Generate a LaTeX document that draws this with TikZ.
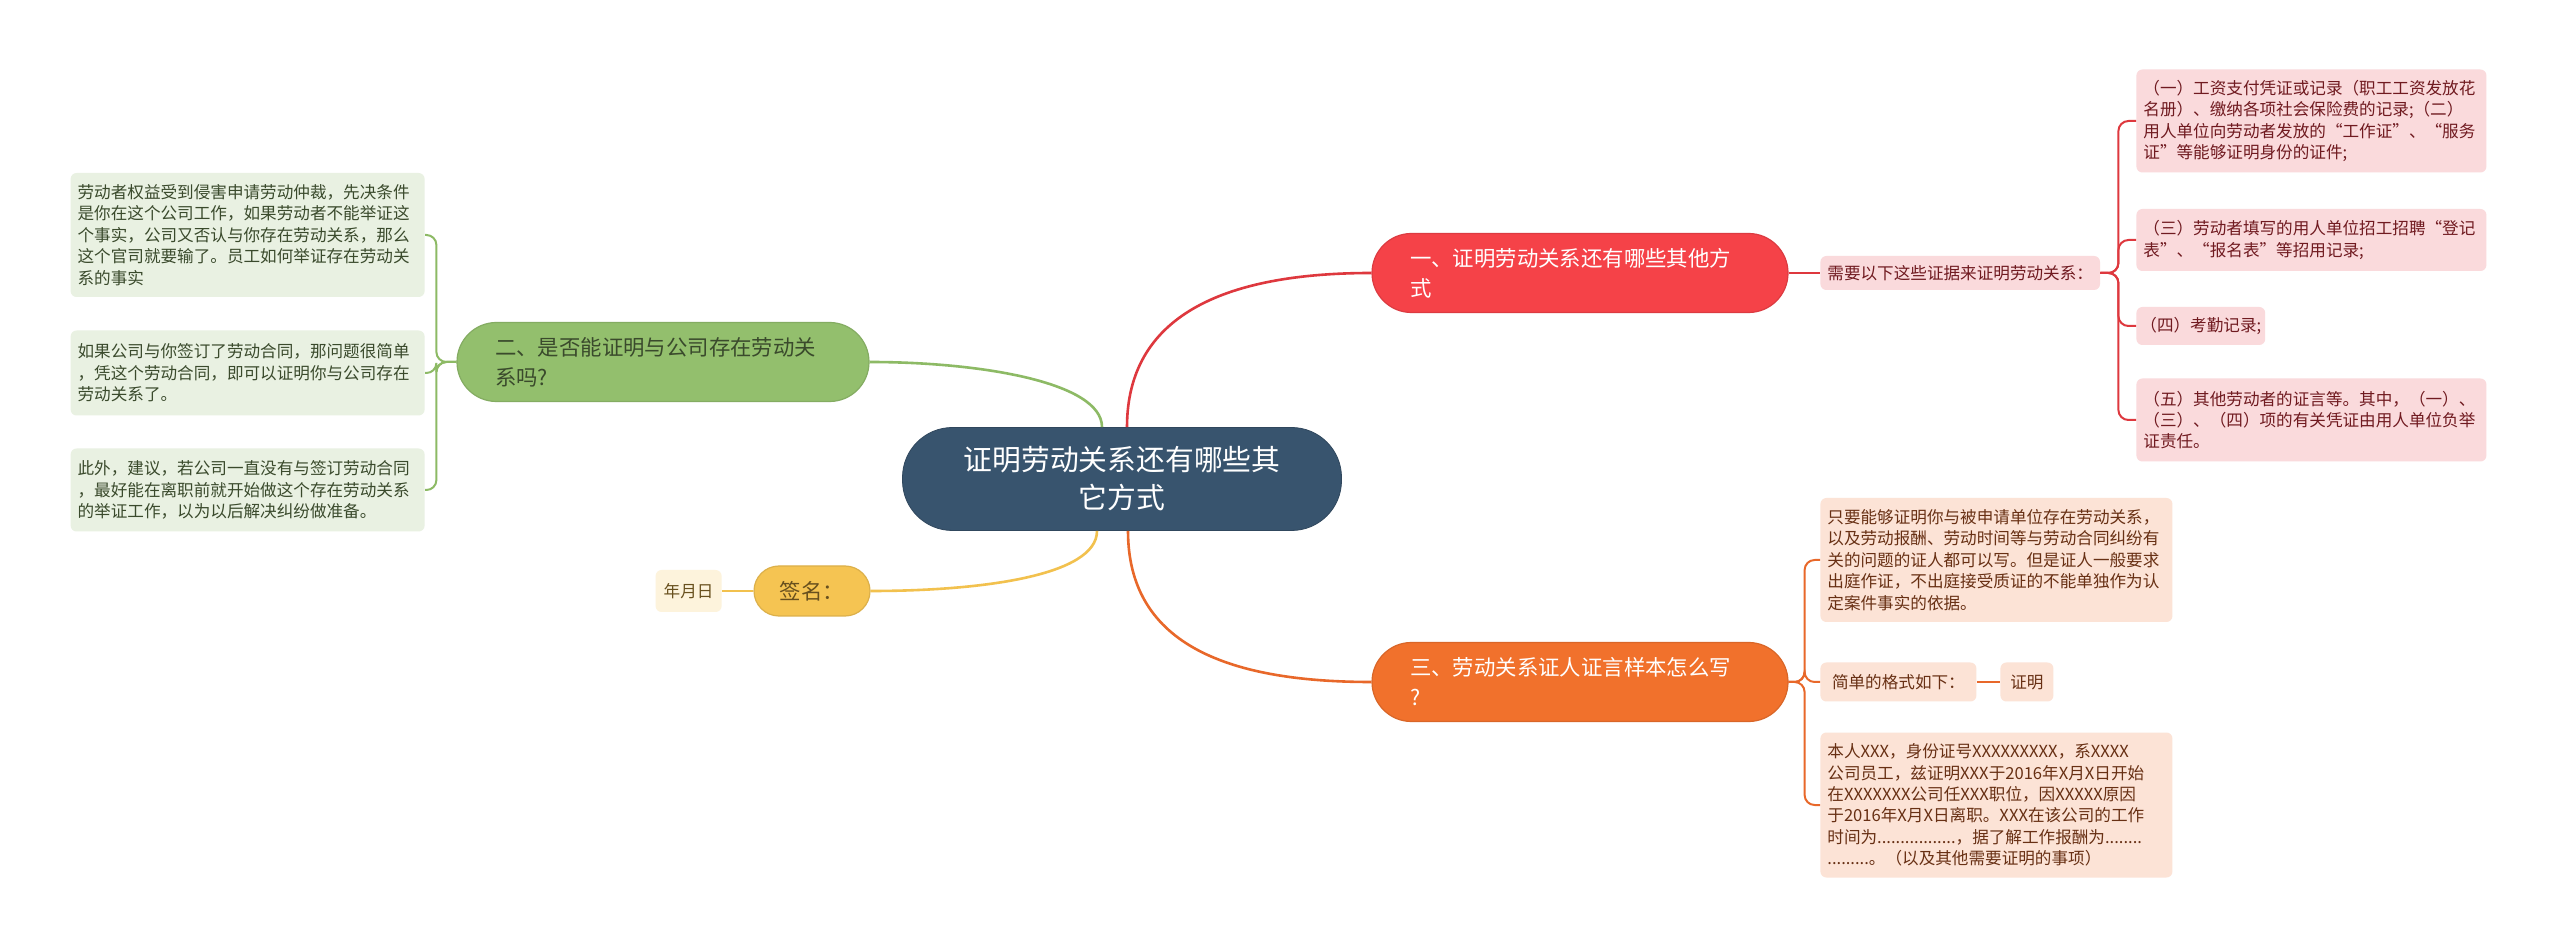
\documentclass[tikz,border=0pt]{standalone}
\usepackage{fontspec}
\setmainfont{Noto Sans CJK SC}
\usepackage{tikz}

\definecolor{topicfill}{RGB}{56,84,110}
\definecolor{redfill}{RGB}{245,66,72}
\definecolor{redcurve}{RGB}{222,56,62}
\definecolor{redleaf}{RGB}{250,218,220}
\definecolor{redtext}{RGB}{112,26,32}
\definecolor{greenfill}{RGB}{147,191,109}
\definecolor{greencurve}{RGB}{141,186,101}
\definecolor{greenleaf}{RGB}{233,241,226}
\definecolor{greentext}{RGB}{58,74,44}
\definecolor{yellowfill}{RGB}{245,196,82}
\definecolor{yellowcurve}{RGB}{242,193,78}
\definecolor{yellowleaf}{RGB}{253,243,220}
\definecolor{yellowtext}{RGB}{104,80,30}
\definecolor{orangefill}{RGB}{241,113,44}
\definecolor{orangecurve}{RGB}{232,104,42}
\definecolor{orangeleaf}{RGB}{252,227,214}
\definecolor{orangetext}{RGB}{104,48,20}

\newcommand{\topicfont}{\fontsize{14.4pt}{19pt}\selectfont}
\newcommand{\branchfont}{\fontsize{10.7pt}{15pt}\selectfont}
\newcommand{\leaffont}{\fontsize{8.3pt}{10.7pt}\selectfont}

\begin{document}
\begin{tikzpicture}[x=0.5pt,y=-0.5pt,
  topicbox/.style={fill=topicfill, draw=topicfill!85!black, text=white, font=\topicfont,
    align=center, rounded corners=25pt, minimum width=219.5pt, minimum height=51.5pt},
  branchbox/.style={font=\branchfont, align=left, rounded corners=19.75pt,
    minimum height=39.5pt, inner xsep=19pt, line width=0.6pt},
  leafbox/.style={font=\leaffont, align=left, rounded corners=3pt, inner xsep=3.5pt},
  maincurve/.style={line width=1.3pt},
  subline/.style={line width=1pt, rounded corners=5pt}]

\fill[white] (0,0) rectangle (2560,951);

% central topic
\node[topicbox] (topic) at (1122,479) {证明劳动关系还有哪些其\\它方式};

% branch one (red)
\node[branchbox, fill=redfill, draw=redfill!90!black, text=white, text width=170pt] (b1) at (1580,273)
  {一、证明劳动关系还有哪些其他方\\式};
\node[leafbox, fill=redleaf, text=redtext, minimum height=17pt, anchor=west] (s1) at (1820,273)
  {需要以下这些证据来证明劳动关系：};
\node[leafbox, fill=redleaf, text=redtext, text width=168pt, minimum height=51.5pt, anchor=west] (l1) at (2136,121)
  {（一）工资支付凭证或记录（职工工资发放花\\名册）、缴纳各项社会保险费的记录;（二）\\用人单位向劳动者发放的“工作证”、“服务\\证”等能够证明身份的证件;};
\node[leafbox, fill=redleaf, text=redtext, text width=168pt, minimum height=31pt, anchor=west] (l2) at (2136,240)
  {（三）劳动者填写的用人单位招工招聘“登记\\表”、“报名表”等招用记录;};
\node[leafbox, fill=redleaf, text=redtext, inner xsep=2pt, minimum height=19pt, anchor=west] (l3) at (2136,326)
  {（四）考勤记录;};
\node[leafbox, fill=redleaf, text=redtext, text width=168pt, minimum height=41.5pt, anchor=west] (l4) at (2136,420)
  {（五）其他劳动者的证言等。其中，（一）、\\（三）、（四）项的有关凭证由用人单位负举\\证责任。};

% branch two (green)
\node[branchbox, fill=greenfill, draw=greenfill!90!black, text=greentext, text width=168pt] (b2) at (663,362)
  {二、是否能证明与公司存在劳动关\\系吗?};
\node[leafbox, fill=greenleaf, text=greentext, text width=170pt, minimum height=62pt, anchor=east] (g1) at (425,235)
  {劳动者权益受到侵害申请劳动仲裁，先决条件\\是你在这个公司工作，如果劳动者不能举证这\\个事实，公司又否认与你存在劳动关系，那么\\这个官司就要输了。员工如何举证存在劳动关\\系的事实};
\node[leafbox, fill=greenleaf, text=greentext, text width=170pt, minimum height=42.5pt, anchor=east] (g2) at (425,373)
  {如果公司与你签订了劳动合同，那问题很简单\\，凭这个劳动合同，即可以证明你与公司存在\\劳动关系了。};
\node[leafbox, fill=greenleaf, text=greentext, text width=170pt, minimum height=41.5pt, anchor=east] (g3) at (425,490)
  {此外，建议，若公司一直没有与签订劳动合同\\，最好能在离职前就开始做这个存在劳动关系\\的举证工作，以为以后解决纠纷做准备。};

% signature (yellow)
\node[branchbox, fill=yellowfill, draw=yellowfill!90!black, text=yellowtext, align=center,
  inner xsep=4pt, minimum width=58pt, minimum height=25pt, rounded corners=12.5pt] (sig) at (812,591) {签名：};
\node[leafbox, fill=yellowleaf, text=yellowtext, minimum width=33pt, minimum height=21pt, align=center, anchor=east] (date) at (722,591)
  {年月日};

% branch three (orange)
\node[branchbox, fill=orangefill, draw=orangefill!90!black, text=white, text width=170pt] (b3) at (1580,682)
  {三、劳动关系证人证言样本怎么写\\?};
\node[leafbox, fill=orangeleaf, text=orangetext, text width=169pt, minimum height=62pt, anchor=west] (o1) at (1820,560)
  {只要能够证明你与被申请单位存在劳动关系，\\以及劳动报酬、劳动时间等与劳动合同纠纷有\\关的问题的证人都可以写。但是证人一般要求\\出庭作证，不出庭接受质证的不能单独作为认\\定案件事实的依据。};
\node[leafbox, fill=orangeleaf, text=orangetext, minimum width=78pt, minimum height=19.5pt, anchor=west] (o2) at (1820,682)
  {简单的格式如下：};
\node[leafbox, fill=orangeleaf, text=orangetext, minimum width=26.5pt, minimum height=19.5pt, align=center, anchor=west] (heading) at (2000,682)
  {证明};
\node[leafbox, fill=orangeleaf, text=orangetext, text width=169pt, minimum height=72.5pt, anchor=west] (o3) at (1820,805)
  {本人XXX，身份证号XXXXXXXXX，系XXXX\\公司员工，兹证明XXX于2016年X月X日开始\\在XXXXXXX公司任XXX职位，因XXXXX原因\\于2016年X月X日离职。XXX在该公司的工作\\时间为.................，据了解工作报酬为........\\.........。（以及其他需要证明的事项）};

% curves from the topic
\draw[maincurve, redcurve] ([xshift=2.5pt]topic.north) .. controls +(0,-110) and +(-150,0) .. (b1.west);
\draw[maincurve, greencurve] ([xshift=-10pt]topic.north) .. controls +(0,-45) and +(110,0) .. (b2.east);
\draw[maincurve, yellowcurve] ([xshift=-12.5pt]topic.south) .. controls +(0,45) and +(110,0) .. (sig.east);
\draw[maincurve, orangecurve] ([xshift=3pt]topic.south) .. controls +(0,110) and +(-150,0) .. (b3.west);

% sub connectors
\draw[subline, redcurve] (b1.east) -- (s1.west);
\foreach \n in {l1,l2,l3,l4}
    \draw[subline, redcurve] (s1.east) -- ++(18,0) |- (\n.west);
\foreach \n in {g1,g2,g3}
    \draw[subline, greencurve] (b2.west) -- ++(-20,0) |- (\n.east);
\draw[subline, yellowcurve] (sig.west) -- (date.east);
\foreach \n in {o1,o2,o3}
    \draw[subline, orangecurve] (b3.east) -- ++(16,0) |- (\n.west);
\draw[subline, orangecurve] (o2.east) -- (heading.west);

\end{tikzpicture}
\end{document}
